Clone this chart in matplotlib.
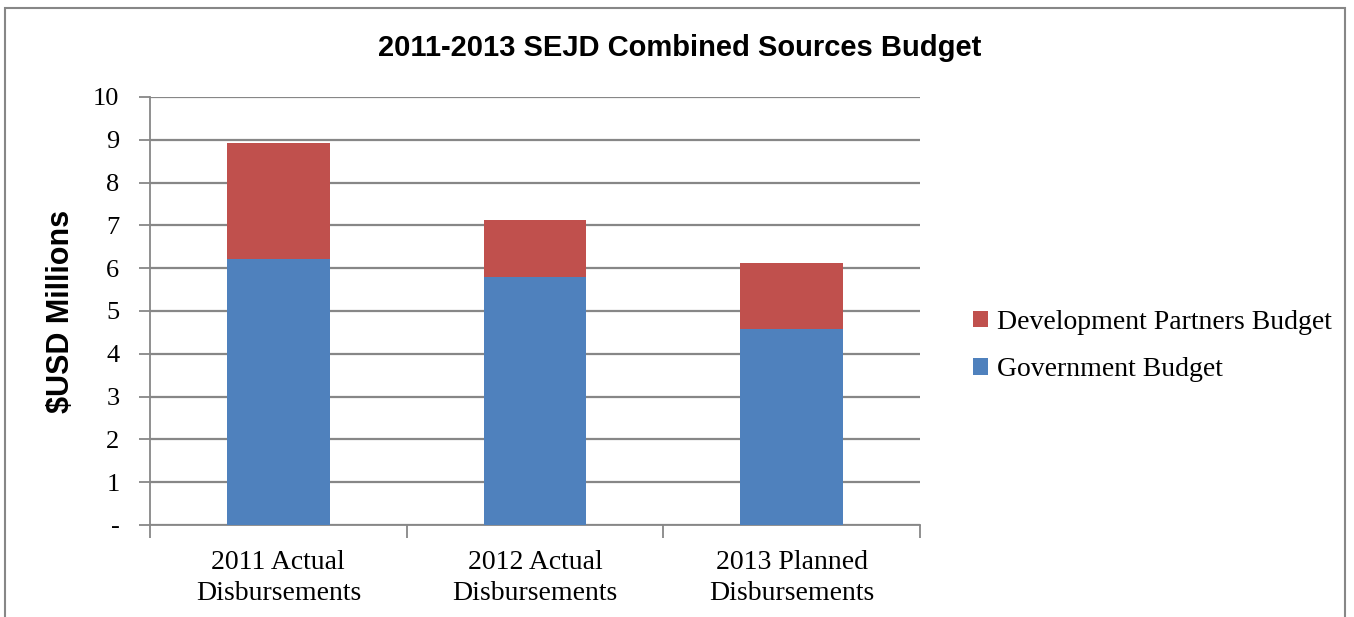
import numpy as np
import matplotlib.pyplot as plt
from matplotlib.patches import Rectangle

# データ
categories = ['2011 Actual\nDisbursements', '2012 Actual\nDisbursements', '2013 Planned\nDisbursements']
gov_budget = [6.21, 5.79, 4.58]
dev_budget = [2.71, 1.33, 1.53]
yticks = [0, 1, 2, 3, 4, 5, 6, 7, 8, 9, 10]
ytick_labels = ['-', '1', '2', '3', '4', '5', '6', '7', '8', '9', '10']

serif = ['Liberation Serif', 'DejaVu Serif']
sans = ['Liberation Sans', 'DejaVu Sans']

fig = plt.figure(figsize=(13.54, 6.17), dpi=100)
ax = fig.add_axes([150 / 1354, 1 - 525 / 617, 770 / 1354, 428 / 617])

x = np.arange(len(categories))
ax.bar(x, gov_budget, width=0.4, color='#4f81bd', label='Government Budget', zorder=3)
ax.bar(x, dev_budget, width=0.4, bottom=gov_budget, color='#c0504d',
       label='Development Partners Budget', zorder=3)

ax.set_xlim(-0.5, 2.5)
ax.set_ylim(0, 10)
ax.set_yticks(yticks)
ax.set_yticklabels(ytick_labels, fontfamily=serif, fontsize=19)
ax.set_xticks([-0.5, 0.5, 1.5, 2.5])
ax.set_xticklabels([])
ax.set_xticks(x, minor=True)
ax.set_xticklabels(categories, minor=True, fontfamily=serif, fontsize=20, linespacing=1.3)
ax.tick_params(axis='x', which='minor', length=0, pad=18)
ax.tick_params(axis='x', which='major', length=9, color='#878787', width=1.3)
ax.tick_params(axis='y', length=8, color='#878787', width=1.3, pad=14)

ax.grid(axis='y', color='#878787', linewidth=1.6, zorder=0)
for s in ['top', 'right']:
    ax.spines[s].set_visible(False)
ax.spines['left'].set_color('#878787')
ax.spines['bottom'].set_color('#878787')
ax.spines['left'].set_linewidth(1.3)
ax.spines['bottom'].set_linewidth(1.3)

ax.set_ylabel('$USD Millions', fontfamily=sans, fontsize=22, fontweight='bold', labelpad=12)
fig.text(680 / 1354, 1 - 48 / 617, '2011-2013 SEJD Combined Sources Budget', ha='center', va='center',
         fontfamily=sans, fontsize=21, fontweight='bold')

handles, labels = ax.get_legend_handles_labels()
fig.legend(handles[::-1], labels[::-1], loc='center left', bbox_to_anchor=(948 / 1354, 1 - 346 / 617),
           frameon=False, prop={'family': serif, 'size': 20}, handlelength=0.55, handleheight=0.55,
           handletextpad=0.3, labelspacing=0.8)

# 外枠
fig.patches.append(Rectangle((5 / 1354, -0.05), 1340 / 1354, 1.05 - 8 / 617, transform=fig.transFigure,
                             fill=False, edgecolor='#878787', linewidth=1.5))

plt.savefig('out.png', dpi=100)
